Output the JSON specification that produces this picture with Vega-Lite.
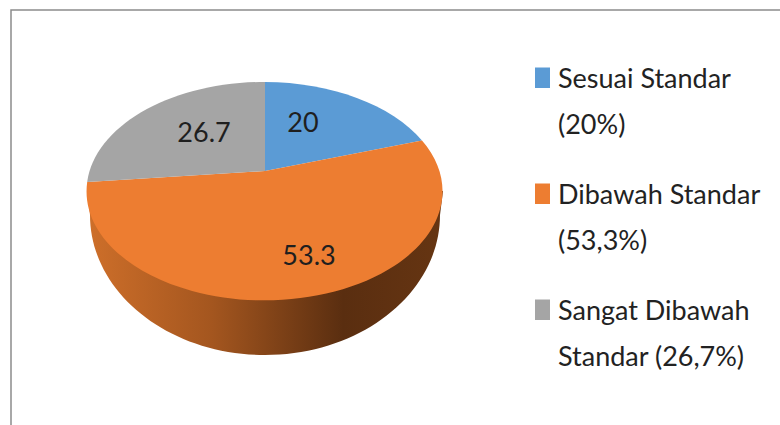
{
"$schema":"https://vega.github.io/schema/vega-lite/v6.json",
"width":800,"height":450,
"padding":{"left":11,"top":10,"right":0,"bottom":0},
"autosize":{"type":"none"},
"background":"white",
"config":{"view":{"stroke":"#8c8c8c","strokeWidth":1.5,"fill":"white"},"font":"Lato","style":{"guide-label":{"lineHeight":46}}},
"data":{"values":[
{"kategori":"Sesuai Standar (20%)","nilai":20},
{"kategori":"Dibawah Standar (53,3%)","nilai":53.3},
{"kategori":"Sangat Dibawah Standar (26,7%)","nilai":26.7}]},
"encoding":{
"x":{"value":254},"y":{"value":181},
"color":{"field":"kategori","type":"nominal","sort":null,
"scale":{"domain":["Sesuai Standar (20%)","Dibawah Standar (53,3%)","Sangat Dibawah Standar (26,7%)"],"range":["#5B9BD5","#ED7D31","#A5A5A5"]},
"legend":{"title":null,"orient":"none","legendX":518,"legendY":56,"symbolType":"M-7.5,-12H7.5V8.5H-7.5Z","symbolSize":4,"symbolOpacity":1,"symbolStrokeWidth":0,"labelFontSize":27,"labelColor":"#222222","labelLimit":300,"labelOffset":2,"rowPadding":42,
"labelExpr":"datum.label=='Sesuai Standar (20%)'?['Sesuai Standar','(20%)']:datum.label=='Dibawah Standar (53,3%)'?['Dibawah Standar','(53,3%)']:['Sangat Dibawah','Standar (26,7%)']"}}
},
"layer":[
{"transform":[{"filter":"datum.nilai==53.3"}],
 "mark":{"type":"point","filled":true,"opacity":1,"strokeWidth":0,"size":4,
 "fill":{"x1":0,"x2":1,"y1":0,"y2":0,"gradient":"linear","stops":[{"offset":0,"color":"#CE6F2A"},{"offset":0.35,"color":"#A4561F"},{"offset":0.72,"color":"#5A2E10"},{"offset":1,"color":"#663512"}]},
 "shape":"M-178,0L-175,24A175,140 0 0 0 175,24L178,0Z"},
 "encoding":{"color":{"value":null}}},
{"transform":[{"filter":"datum.nilai==20"}],
 "mark":{"type":"point","filled":true,"opacity":1,"strokeWidth":0,"size":4,"shape":"M0,-20L0,-109A178,109 0 0 1 157,-50.5Z"}},
{"transform":[{"filter":"datum.nilai==53.3"}],
 "mark":{"type":"point","filled":true,"opacity":1,"strokeWidth":0,"size":4,"shape":"M0,-20L157,-50.5A178,109 0 1 1 -177.8,-9Z"}},
{"transform":[{"filter":"datum.nilai==26.7"}],
 "mark":{"type":"point","filled":true,"opacity":1,"strokeWidth":0,"size":4,"shape":"M0,-20L-177.8,-9A178,109 0 0 1 0,-109Z"}},
{"mark":{"type":"text","fontSize":27},
 "transform":[{"filter":"datum.nilai==20"}],
 "encoding":{"text":{"field":"nilai"},"x":{"value":292},"y":{"value":114},"color":{"value":"#1f1f1f"}}},
{"mark":{"type":"text","fontSize":27},
 "transform":[{"filter":"datum.nilai==26.7"}],
 "encoding":{"text":{"field":"nilai"},"x":{"value":193},"y":{"value":124},"color":{"value":"#1f1f1f"}}},
{"mark":{"type":"text","fontSize":27},
 "transform":[{"filter":"datum.nilai==53.3"}],
 "encoding":{"text":{"field":"nilai"},"x":{"value":298},"y":{"value":247},"color":{"value":"#1f1f1f"}}}
]
}
